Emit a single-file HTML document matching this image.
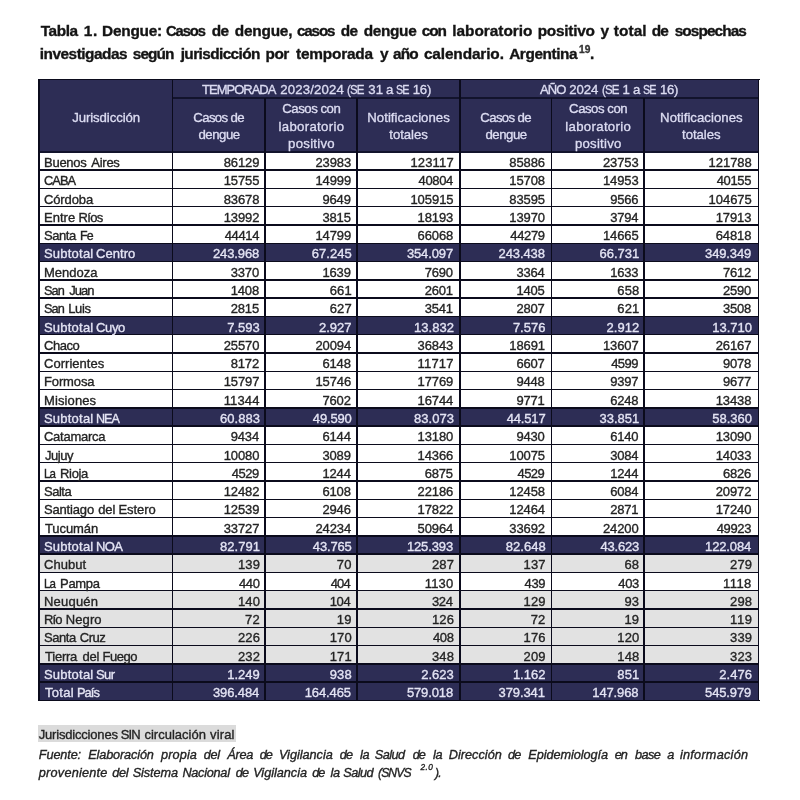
<!DOCTYPE html>
<html><head><meta charset="utf-8"><title>Tabla 1. Dengue</title>
<style>
html,body{margin:0;padding:0;background:#fff;}
body{width:800px;height:800px;position:relative;overflow:hidden;font-family:"Liberation Sans",sans-serif;}
.b{position:absolute;}
.l{position:absolute;background:#0b0b1c;}
.x{position:absolute;white-space:nowrap;line-height:1;-webkit-text-stroke:0.35px;}
#pg{position:absolute;left:0;top:0;width:800px;height:800px;background:#fff;filter:blur(0.45px);}
</style></head><body><div id="pg">
<div class="b" style="left:38.85px;top:79.6px;width:719.8px;height:72.20000000000002px;background:#2d2d55;"></div>
<div class="b" style="left:38.85px;top:243.23px;width:719.8px;height:18.29px;background:#2d2d55;"></div>
<div class="b" style="left:38.85px;top:316.38px;width:719.8px;height:18.29px;background:#2d2d55;"></div>
<div class="b" style="left:38.85px;top:407.81px;width:719.8px;height:18.29px;background:#2d2d55;"></div>
<div class="b" style="left:38.85px;top:535.82px;width:719.8px;height:18.29px;background:#2d2d55;"></div>
<div class="b" style="left:38.85px;top:554.11px;width:719.8px;height:18.29px;background:#e2e2e2;"></div>
<div class="b" style="left:38.85px;top:590.68px;width:719.8px;height:18.29px;background:#e2e2e2;"></div>
<div class="b" style="left:38.85px;top:608.97px;width:719.8px;height:18.29px;background:#e2e2e2;"></div>
<div class="b" style="left:38.85px;top:627.25px;width:719.8px;height:18.29px;background:#e2e2e2;"></div>
<div class="b" style="left:38.85px;top:645.54px;width:719.8px;height:18.29px;background:#e2e2e2;"></div>
<div class="b" style="left:38.85px;top:663.83px;width:719.8px;height:18.29px;background:#2d2d55;"></div>
<div class="b" style="left:38.85px;top:682.11px;width:719.8px;height:18.29px;background:#2d2d55;"></div>
<div class="l" style="left:38.00px;top:78.75px;width:721.50px;height:1.7px;"></div>
<div class="l" style="left:38.00px;top:699.55px;width:721.50px;height:1.7px;"></div>
<div class="l" style="left:172.60px;top:96.90px;width:586.05px;height:1.8px;background:#12132c;"></div>
<div class="l" style="left:38.85px;top:150.90px;width:719.80px;height:1.8px;background:#12132c;"></div>
<div class="l" style="left:38.85px;top:169.36px;width:719.80px;height:1.45px;"></div>
<div class="l" style="left:38.85px;top:187.65px;width:719.80px;height:1.45px;"></div>
<div class="l" style="left:38.85px;top:205.94px;width:719.80px;height:1.45px;"></div>
<div class="l" style="left:38.85px;top:224.22px;width:719.80px;height:1.45px;"></div>
<div class="l" style="left:38.85px;top:242.51px;width:719.80px;height:1.45px;"></div>
<div class="l" style="left:38.85px;top:260.79px;width:719.80px;height:1.45px;"></div>
<div class="l" style="left:38.85px;top:279.08px;width:719.80px;height:1.45px;"></div>
<div class="l" style="left:38.85px;top:297.37px;width:719.80px;height:1.45px;"></div>
<div class="l" style="left:38.85px;top:315.65px;width:719.80px;height:1.45px;"></div>
<div class="l" style="left:38.85px;top:333.94px;width:719.80px;height:1.45px;"></div>
<div class="l" style="left:38.85px;top:352.23px;width:719.80px;height:1.45px;"></div>
<div class="l" style="left:38.85px;top:370.51px;width:719.80px;height:1.45px;"></div>
<div class="l" style="left:38.85px;top:388.80px;width:719.80px;height:1.45px;"></div>
<div class="l" style="left:38.85px;top:407.09px;width:719.80px;height:1.45px;"></div>
<div class="l" style="left:38.85px;top:425.37px;width:719.80px;height:1.45px;"></div>
<div class="l" style="left:38.85px;top:443.66px;width:719.80px;height:1.45px;"></div>
<div class="l" style="left:38.85px;top:461.95px;width:719.80px;height:1.45px;"></div>
<div class="l" style="left:38.85px;top:480.23px;width:719.80px;height:1.45px;"></div>
<div class="l" style="left:38.85px;top:498.52px;width:719.80px;height:1.45px;"></div>
<div class="l" style="left:38.85px;top:516.81px;width:719.80px;height:1.45px;"></div>
<div class="l" style="left:38.85px;top:535.09px;width:719.80px;height:1.45px;"></div>
<div class="l" style="left:38.85px;top:553.38px;width:719.80px;height:1.45px;"></div>
<div class="l" style="left:38.85px;top:571.67px;width:719.80px;height:1.45px;"></div>
<div class="l" style="left:38.85px;top:589.96px;width:719.80px;height:1.45px;"></div>
<div class="l" style="left:38.85px;top:608.24px;width:719.80px;height:1.45px;"></div>
<div class="l" style="left:38.85px;top:626.53px;width:719.80px;height:1.45px;"></div>
<div class="l" style="left:38.85px;top:644.81px;width:719.80px;height:1.45px;"></div>
<div class="l" style="left:38.85px;top:663.10px;width:719.80px;height:1.45px;"></div>
<div class="l" style="left:38.85px;top:681.39px;width:719.80px;height:1.45px;"></div>
<div class="l" style="left:38.00px;top:79.60px;width:1.7px;height:620.80px;"></div>
<div class="l" style="left:757.80px;top:79.60px;width:1.7px;height:620.80px;"></div>
<div class="l" style="left:171.70px;top:79.60px;width:1.8px;height:620.80px;"></div>
<div class="l" style="left:459.30px;top:79.60px;width:1.8px;height:620.80px;"></div>
<div class="l" style="left:264.20px;top:97.80px;width:1.6px;height:602.60px;"></div>
<div class="l" style="left:356.20px;top:97.80px;width:1.6px;height:602.60px;"></div>
<div class="l" style="left:550.60px;top:97.80px;width:1.6px;height:602.60px;"></div>
<div class="l" style="left:643.40px;top:97.80px;width:1.6px;height:602.60px;"></div>
<div class="b" style="left:38px;top:725px;width:198px;height:17px;background:#dbdbdb;"></div>
<div class="x" style="left:40.77px;top:23.46px;font-size:15.4px;letter-spacing:-0.443px;color:#141414;font-weight:bold;">Tabla</div>
<div class="x" style="left:83.68px;top:23.46px;font-size:15.4px;letter-spacing:0.696px;color:#141414;font-weight:bold;">1.</div>
<div class="x" style="left:102.05px;top:23.46px;font-size:15.4px;letter-spacing:-0.229px;color:#141414;font-weight:bold;">Dengue:</div>
<div class="x" style="left:166.40px;top:23.46px;font-size:15.4px;letter-spacing:-1.155px;color:#141414;transform:scaleX(0.9609);transform-origin:0 0;font-weight:bold;">Casos</div>
<div class="x" style="left:211.84px;top:23.46px;font-size:15.4px;letter-spacing:-0.755px;color:#141414;font-weight:bold;">de</div>
<div class="x" style="left:234.76px;top:23.46px;font-size:15.4px;letter-spacing:-0.212px;color:#141414;font-weight:bold;">dengue,</div>
<div class="x" style="left:297.18px;top:23.46px;font-size:15.4px;letter-spacing:-1.155px;color:#141414;transform:scaleX(0.9872);transform-origin:0 0;font-weight:bold;">casos</div>
<div class="x" style="left:340.75px;top:23.46px;font-size:15.4px;letter-spacing:-0.755px;color:#141414;font-weight:bold;">de</div>
<div class="x" style="left:363.67px;top:23.46px;font-size:15.4px;letter-spacing:-0.337px;color:#141414;font-weight:bold;">dengue</div>
<div class="x" style="left:421.67px;top:23.46px;font-size:15.4px;letter-spacing:-1.004px;color:#141414;font-weight:bold;">con</div>
<div class="x" style="left:452.34px;top:23.46px;font-size:15.4px;letter-spacing:-0.037px;color:#141414;font-weight:bold;">laboratorio</div>
<div class="x" style="left:537.64px;top:23.46px;font-size:15.4px;letter-spacing:-0.243px;color:#141414;font-weight:bold;">positivo</div>
<div class="x" style="left:600.62px;top:23.46px;font-size:15.4px;letter-spacing:0.000px;color:#141414;font-weight:bold;">y</div>
<div class="x" style="left:613.87px;top:23.46px;font-size:15.4px;letter-spacing:0.046px;color:#141414;font-weight:bold;">total</div>
<div class="x" style="left:651.73px;top:23.46px;font-size:15.4px;letter-spacing:-0.755px;color:#141414;font-weight:bold;">de</div>
<div class="x" style="left:674.65px;top:23.46px;font-size:15.4px;letter-spacing:-0.914px;color:#141414;font-weight:bold;">sospechas</div>
<div class="x" style="left:39.77px;top:45.76px;font-size:15.4px;letter-spacing:-0.499px;color:#141414;font-weight:bold;">investigadas</div>
<div class="x" style="left:132.82px;top:45.76px;font-size:15.4px;letter-spacing:-0.911px;color:#141414;font-weight:bold;">según</div>
<div class="x" style="left:180.71px;top:45.76px;font-size:15.4px;letter-spacing:-0.607px;color:#141414;font-weight:bold;">jurisdicción</div>
<div class="x" style="left:265.58px;top:45.76px;font-size:15.4px;letter-spacing:-0.543px;color:#141414;font-weight:bold;">por</div>
<div class="x" style="left:296.03px;top:45.76px;font-size:15.4px;letter-spacing:-0.196px;color:#141414;font-weight:bold;">temporada</div>
<div class="x" style="left:380.00px;top:45.76px;font-size:15.4px;letter-spacing:0.000px;color:#141414;font-weight:bold;">y</div>
<div class="x" style="left:393.10px;top:45.76px;font-size:15.4px;letter-spacing:-0.855px;color:#141414;font-weight:bold;">año</div>
<div class="x" style="left:423.93px;top:45.76px;font-size:15.4px;letter-spacing:-0.128px;color:#141414;font-weight:bold;">calendario.</div>
<div class="x" style="left:509.19px;top:45.76px;font-size:15.4px;letter-spacing:-0.433px;color:#141414;font-weight:bold;">Argentina</div>
<div class="x" style="left:590.00px;top:45.76px;font-size:15.4px;letter-spacing:0.000px;color:#141414;font-weight:bold;">.</div>
<div class="x" style="left:579.00px;top:45.07px;font-size:10.2px;letter-spacing:0.200px;color:#333333;font-weight:bold;">19</div>
<div class="x" style="left:201.91px;top:83.43px;font-size:13.2px;letter-spacing:-0.990px;color:#dcdcf2;transform:scaleX(0.9840);transform-origin:0 0;">TEMPORADA</div>
<div class="x" style="left:280.29px;top:83.43px;font-size:13.2px;letter-spacing:0.154px;color:#dcdcf2;">2023/2024</div>
<div class="x" style="left:347.17px;top:83.43px;font-size:13.2px;letter-spacing:-0.990px;color:#dcdcf2;transform:scaleX(0.8721);transform-origin:0 0;">(SE</div>
<div class="x" style="left:368.15px;top:83.43px;font-size:13.2px;letter-spacing:0.213px;color:#dcdcf2;">31</div>
<div class="x" style="left:385.88px;top:83.43px;font-size:13.2px;letter-spacing:0.000px;color:#dcdcf2;">a</div>
<div class="x" style="left:396.15px;top:83.43px;font-size:13.2px;letter-spacing:-0.990px;color:#dcdcf2;transform:scaleX(0.8165);transform-origin:0 0;">SE</div>
<div class="x" style="left:412.74px;top:83.43px;font-size:13.2px;letter-spacing:-0.227px;color:#dcdcf2;">16)</div>
<div class="x" style="left:540.01px;top:83.43px;font-size:13.2px;letter-spacing:-0.990px;color:#dcdcf2;transform:scaleX(0.9876);transform-origin:0 0;">AÑO</div>
<div class="x" style="left:569.22px;top:83.43px;font-size:13.2px;letter-spacing:-0.096px;color:#dcdcf2;">2024</div>
<div class="x" style="left:601.58px;top:83.43px;font-size:13.2px;letter-spacing:-0.990px;color:#dcdcf2;transform:scaleX(0.8721);transform-origin:0 0;">(SE</div>
<div class="x" style="left:622.56px;top:83.43px;font-size:13.2px;letter-spacing:0.000px;color:#dcdcf2;">1</div>
<div class="x" style="left:633.04px;top:83.43px;font-size:13.2px;letter-spacing:0.000px;color:#dcdcf2;">a</div>
<div class="x" style="left:643.31px;top:83.43px;font-size:13.2px;letter-spacing:-0.990px;color:#dcdcf2;transform:scaleX(0.8165);transform-origin:0 0;">SE</div>
<div class="x" style="left:659.90px;top:83.43px;font-size:13.2px;letter-spacing:-0.227px;color:#dcdcf2;">16)</div>
<div class="x" style="left:72.22px;top:110.58px;font-size:13.2px;letter-spacing:-0.091px;color:#dcdcf2;">Jurisdicción</div>
<div class="x" style="left:193.25px;top:110.58px;font-size:13.2px;letter-spacing:-0.614px;color:#dcdcf2;">Casos de</div>
<div class="x" style="left:198.50px;top:128.13px;font-size:13.2px;letter-spacing:-0.480px;color:#dcdcf2;">dengue</div>
<div class="x" style="left:480.25px;top:110.58px;font-size:13.2px;letter-spacing:-0.614px;color:#dcdcf2;">Casos de</div>
<div class="x" style="left:485.50px;top:128.13px;font-size:13.2px;letter-spacing:-0.480px;color:#dcdcf2;">dengue</div>
<div class="x" style="left:282.30px;top:101.73px;font-size:13.2px;letter-spacing:-0.475px;color:#dcdcf2;">Casos con</div>
<div class="x" style="left:278.50px;top:119.93px;font-size:13.2px;letter-spacing:0.320px;color:#dcdcf2;">laboratorio</div>
<div class="x" style="left:288.10px;top:136.83px;font-size:13.2px;letter-spacing:0.257px;color:#dcdcf2;">positivo</div>
<div class="x" style="left:569.10px;top:101.73px;font-size:13.2px;letter-spacing:-0.475px;color:#dcdcf2;">Casos con</div>
<div class="x" style="left:565.30px;top:119.93px;font-size:13.2px;letter-spacing:0.320px;color:#dcdcf2;">laboratorio</div>
<div class="x" style="left:574.90px;top:136.83px;font-size:13.2px;letter-spacing:0.257px;color:#dcdcf2;">positivo</div>
<div class="x" style="left:367.30px;top:110.93px;font-size:13.2px;letter-spacing:0.031px;color:#dcdcf2;">Notificaciones</div>
<div class="x" style="left:389.30px;top:128.43px;font-size:13.2px;letter-spacing:-0.067px;color:#dcdcf2;">totales</div>
<div class="x" style="left:660.12px;top:110.93px;font-size:13.2px;letter-spacing:0.031px;color:#dcdcf2;">Notificaciones</div>
<div class="x" style="left:682.12px;top:128.43px;font-size:13.2px;letter-spacing:-0.067px;color:#dcdcf2;">totales</div>
<div class="x" style="left:43.99px;top:155.93px;font-size:13.0px;letter-spacing:-0.249px;color:#242424;">Buenos</div>
<div class="x" style="left:91.27px;top:155.93px;font-size:13.0px;letter-spacing:-0.257px;color:#242424;">Aires</div>
<div class="x" style="left:223.63px;top:155.93px;font-size:13.0px;letter-spacing:-0.096px;color:#242424;">86129</div>
<div class="x" style="left:315.38px;top:155.93px;font-size:13.0px;letter-spacing:-0.096px;color:#242424;">23983</div>
<div class="x" style="left:410.44px;top:155.93px;font-size:13.0px;letter-spacing:0.153px;color:#242424;">123117</div>
<div class="x" style="left:509.28px;top:155.93px;font-size:13.0px;letter-spacing:-0.096px;color:#242424;">85886</div>
<div class="x" style="left:602.98px;top:155.93px;font-size:13.0px;letter-spacing:-0.096px;color:#242424;">23753</div>
<div class="x" style="left:708.59px;top:155.93px;font-size:13.0px;letter-spacing:-0.047px;color:#242424;">121788</div>
<div class="x" style="left:44.01px;top:174.22px;font-size:13.0px;letter-spacing:-0.975px;color:#242424;transform:scaleX(0.9871);transform-origin:0 0;">CABA</div>
<div class="x" style="left:223.63px;top:174.22px;font-size:13.0px;letter-spacing:-0.096px;color:#242424;">15755</div>
<div class="x" style="left:315.38px;top:174.22px;font-size:13.0px;letter-spacing:-0.096px;color:#242424;">14999</div>
<div class="x" style="left:418.58px;top:174.22px;font-size:13.0px;letter-spacing:-0.346px;color:#242424;">40804</div>
<div class="x" style="left:509.28px;top:174.22px;font-size:13.0px;letter-spacing:-0.096px;color:#242424;">15708</div>
<div class="x" style="left:602.98px;top:174.22px;font-size:13.0px;letter-spacing:-0.096px;color:#242424;">14953</div>
<div class="x" style="left:716.73px;top:174.22px;font-size:13.0px;letter-spacing:-0.346px;color:#242424;">40155</div>
<div class="x" style="left:43.99px;top:192.51px;font-size:13.0px;letter-spacing:-0.123px;color:#242424;">Córdoba</div>
<div class="x" style="left:223.63px;top:192.51px;font-size:13.0px;letter-spacing:-0.096px;color:#242424;">83678</div>
<div class="x" style="left:322.53px;top:192.51px;font-size:13.0px;letter-spacing:-0.178px;color:#242424;">9649</div>
<div class="x" style="left:410.44px;top:192.51px;font-size:13.0px;letter-spacing:-0.047px;color:#242424;">105915</div>
<div class="x" style="left:509.28px;top:192.51px;font-size:13.0px;letter-spacing:-0.096px;color:#242424;">83595</div>
<div class="x" style="left:610.13px;top:192.51px;font-size:13.0px;letter-spacing:-0.178px;color:#242424;">9566</div>
<div class="x" style="left:708.59px;top:192.51px;font-size:13.0px;letter-spacing:-0.047px;color:#242424;">104675</div>
<div class="x" style="left:43.99px;top:210.79px;font-size:13.0px;letter-spacing:0.025px;color:#242424;">Entre</div>
<div class="x" style="left:78.61px;top:210.79px;font-size:13.0px;letter-spacing:-0.707px;color:#242424;">Ríos</div>
<div class="x" style="left:223.63px;top:210.79px;font-size:13.0px;letter-spacing:-0.096px;color:#242424;">13992</div>
<div class="x" style="left:322.53px;top:210.79px;font-size:13.0px;letter-spacing:-0.178px;color:#242424;">3815</div>
<div class="x" style="left:417.58px;top:210.79px;font-size:13.0px;letter-spacing:-0.096px;color:#242424;">18193</div>
<div class="x" style="left:509.28px;top:210.79px;font-size:13.0px;letter-spacing:-0.096px;color:#242424;">13970</div>
<div class="x" style="left:610.13px;top:210.79px;font-size:13.0px;letter-spacing:-0.178px;color:#242424;">3794</div>
<div class="x" style="left:715.73px;top:210.79px;font-size:13.0px;letter-spacing:-0.096px;color:#242424;">17913</div>
<div class="x" style="left:43.99px;top:229.08px;font-size:13.0px;letter-spacing:-0.431px;color:#242424;">Santa</div>
<div class="x" style="left:79.83px;top:229.08px;font-size:13.0px;letter-spacing:-0.975px;color:#242424;transform:scaleX(0.9519);transform-origin:0 0;">Fe</div>
<div class="x" style="left:224.63px;top:229.08px;font-size:13.0px;letter-spacing:-0.346px;color:#242424;">44414</div>
<div class="x" style="left:315.38px;top:229.08px;font-size:13.0px;letter-spacing:-0.096px;color:#242424;">14799</div>
<div class="x" style="left:417.58px;top:229.08px;font-size:13.0px;letter-spacing:-0.096px;color:#242424;">66068</div>
<div class="x" style="left:510.28px;top:229.08px;font-size:13.0px;letter-spacing:-0.346px;color:#242424;">44279</div>
<div class="x" style="left:602.98px;top:229.08px;font-size:13.0px;letter-spacing:-0.096px;color:#242424;">14665</div>
<div class="x" style="left:715.73px;top:229.08px;font-size:13.0px;letter-spacing:-0.096px;color:#242424;">64818</div>
<div class="x" style="left:43.99px;top:247.37px;font-size:13.0px;letter-spacing:0.219px;color:#e4e4f4;">Subtotal</div>
<div class="x" style="left:96.05px;top:247.37px;font-size:13.0px;letter-spacing:0.056px;color:#e4e4f4;">Centro</div>
<div class="x" style="left:212.93px;top:247.37px;font-size:13.0px;letter-spacing:-0.114px;color:#e4e4f4;">243.968</div>
<div class="x" style="left:311.83px;top:247.37px;font-size:13.0px;letter-spacing:0.034px;color:#e4e4f4;">67.245</div>
<div class="x" style="left:406.88px;top:247.37px;font-size:13.0px;letter-spacing:-0.114px;color:#e4e4f4;">354.097</div>
<div class="x" style="left:498.58px;top:247.37px;font-size:13.0px;letter-spacing:-0.114px;color:#e4e4f4;">243.438</div>
<div class="x" style="left:599.43px;top:247.37px;font-size:13.0px;letter-spacing:0.034px;color:#e4e4f4;">66.731</div>
<div class="x" style="left:705.03px;top:247.37px;font-size:13.0px;letter-spacing:-0.114px;color:#e4e4f4;">349.349</div>
<div class="x" style="left:43.99px;top:265.65px;font-size:13.0px;letter-spacing:0.018px;color:#242424;">Mendoza</div>
<div class="x" style="left:230.78px;top:265.65px;font-size:13.0px;letter-spacing:-0.178px;color:#242424;">3370</div>
<div class="x" style="left:322.53px;top:265.65px;font-size:13.0px;letter-spacing:-0.178px;color:#242424;">1639</div>
<div class="x" style="left:424.73px;top:265.65px;font-size:13.0px;letter-spacing:-0.178px;color:#242424;">7690</div>
<div class="x" style="left:516.43px;top:265.65px;font-size:13.0px;letter-spacing:-0.178px;color:#242424;">3364</div>
<div class="x" style="left:610.13px;top:265.65px;font-size:13.0px;letter-spacing:-0.178px;color:#242424;">1633</div>
<div class="x" style="left:722.88px;top:265.65px;font-size:13.0px;letter-spacing:-0.178px;color:#242424;">7612</div>
<div class="x" style="left:44.01px;top:283.94px;font-size:13.0px;letter-spacing:-0.975px;color:#242424;transform:scaleX(0.9792);transform-origin:0 0;">San</div>
<div class="x" style="left:69.15px;top:283.94px;font-size:13.0px;letter-spacing:-0.954px;color:#242424;">Juan</div>
<div class="x" style="left:230.78px;top:283.94px;font-size:13.0px;letter-spacing:-0.178px;color:#242424;">1408</div>
<div class="x" style="left:329.68px;top:283.94px;font-size:13.0px;letter-spacing:0.159px;color:#242424;">661</div>
<div class="x" style="left:424.73px;top:283.94px;font-size:13.0px;letter-spacing:-0.178px;color:#242424;">2601</div>
<div class="x" style="left:516.43px;top:283.94px;font-size:13.0px;letter-spacing:-0.178px;color:#242424;">1405</div>
<div class="x" style="left:617.28px;top:283.94px;font-size:13.0px;letter-spacing:0.159px;color:#242424;">658</div>
<div class="x" style="left:722.88px;top:283.94px;font-size:13.0px;letter-spacing:-0.178px;color:#242424;">2590</div>
<div class="x" style="left:44.01px;top:302.23px;font-size:13.0px;letter-spacing:-0.975px;color:#242424;transform:scaleX(0.9792);transform-origin:0 0;">San</div>
<div class="x" style="left:68.15px;top:302.23px;font-size:13.0px;letter-spacing:-0.302px;color:#242424;">Luis</div>
<div class="x" style="left:230.78px;top:302.23px;font-size:13.0px;letter-spacing:-0.178px;color:#242424;">2815</div>
<div class="x" style="left:329.68px;top:302.23px;font-size:13.0px;letter-spacing:0.159px;color:#242424;">627</div>
<div class="x" style="left:424.73px;top:302.23px;font-size:13.0px;letter-spacing:-0.178px;color:#242424;">3541</div>
<div class="x" style="left:516.43px;top:302.23px;font-size:13.0px;letter-spacing:-0.178px;color:#242424;">2807</div>
<div class="x" style="left:617.28px;top:302.23px;font-size:13.0px;letter-spacing:0.159px;color:#242424;">621</div>
<div class="x" style="left:722.88px;top:302.23px;font-size:13.0px;letter-spacing:-0.178px;color:#242424;">3508</div>
<div class="x" style="left:43.99px;top:320.51px;font-size:13.0px;letter-spacing:0.219px;color:#e4e4f4;">Subtotal</div>
<div class="x" style="left:96.05px;top:320.51px;font-size:13.0px;letter-spacing:-0.381px;color:#e4e4f4;">Cuyo</div>
<div class="x" style="left:227.23px;top:320.51px;font-size:13.0px;letter-spacing:0.005px;color:#e4e4f4;">7.593</div>
<div class="x" style="left:318.98px;top:320.51px;font-size:13.0px;letter-spacing:0.005px;color:#e4e4f4;">2.927</div>
<div class="x" style="left:414.03px;top:320.51px;font-size:13.0px;letter-spacing:0.034px;color:#e4e4f4;">13.832</div>
<div class="x" style="left:512.88px;top:320.51px;font-size:13.0px;letter-spacing:0.005px;color:#e4e4f4;">7.576</div>
<div class="x" style="left:606.58px;top:320.51px;font-size:13.0px;letter-spacing:0.005px;color:#e4e4f4;">2.912</div>
<div class="x" style="left:712.18px;top:320.51px;font-size:13.0px;letter-spacing:0.034px;color:#e4e4f4;">13.710</div>
<div class="x" style="left:43.99px;top:338.80px;font-size:13.0px;letter-spacing:-0.431px;color:#242424;">Chaco</div>
<div class="x" style="left:223.63px;top:338.80px;font-size:13.0px;letter-spacing:-0.096px;color:#242424;">25570</div>
<div class="x" style="left:315.38px;top:338.80px;font-size:13.0px;letter-spacing:-0.096px;color:#242424;">20094</div>
<div class="x" style="left:417.58px;top:338.80px;font-size:13.0px;letter-spacing:-0.096px;color:#242424;">36843</div>
<div class="x" style="left:509.28px;top:338.80px;font-size:13.0px;letter-spacing:-0.096px;color:#242424;">18691</div>
<div class="x" style="left:602.98px;top:338.80px;font-size:13.0px;letter-spacing:-0.096px;color:#242424;">13607</div>
<div class="x" style="left:715.73px;top:338.80px;font-size:13.0px;letter-spacing:-0.096px;color:#242424;">26167</div>
<div class="x" style="left:43.99px;top:357.09px;font-size:13.0px;letter-spacing:0.029px;color:#242424;">Corrientes</div>
<div class="x" style="left:230.78px;top:357.09px;font-size:13.0px;letter-spacing:-0.178px;color:#242424;">8172</div>
<div class="x" style="left:322.53px;top:357.09px;font-size:13.0px;letter-spacing:-0.178px;color:#242424;">6148</div>
<div class="x" style="left:417.58px;top:357.09px;font-size:13.0px;letter-spacing:0.154px;color:#242424;">11717</div>
<div class="x" style="left:516.43px;top:357.09px;font-size:13.0px;letter-spacing:-0.178px;color:#242424;">6607</div>
<div class="x" style="left:611.13px;top:357.09px;font-size:13.0px;letter-spacing:-0.511px;color:#242424;">4599</div>
<div class="x" style="left:722.88px;top:357.09px;font-size:13.0px;letter-spacing:-0.178px;color:#242424;">9078</div>
<div class="x" style="left:43.99px;top:375.37px;font-size:13.0px;letter-spacing:-0.132px;color:#242424;">Formosa</div>
<div class="x" style="left:223.63px;top:375.37px;font-size:13.0px;letter-spacing:-0.096px;color:#242424;">15797</div>
<div class="x" style="left:315.38px;top:375.37px;font-size:13.0px;letter-spacing:-0.096px;color:#242424;">15746</div>
<div class="x" style="left:417.58px;top:375.37px;font-size:13.0px;letter-spacing:-0.096px;color:#242424;">17769</div>
<div class="x" style="left:516.43px;top:375.37px;font-size:13.0px;letter-spacing:-0.178px;color:#242424;">9448</div>
<div class="x" style="left:610.13px;top:375.37px;font-size:13.0px;letter-spacing:-0.178px;color:#242424;">9397</div>
<div class="x" style="left:722.88px;top:375.37px;font-size:13.0px;letter-spacing:-0.178px;color:#242424;">9677</div>
<div class="x" style="left:43.99px;top:393.66px;font-size:13.0px;letter-spacing:0.119px;color:#242424;">Misiones</div>
<div class="x" style="left:223.63px;top:393.66px;font-size:13.0px;letter-spacing:0.154px;color:#242424;">11344</div>
<div class="x" style="left:322.53px;top:393.66px;font-size:13.0px;letter-spacing:-0.178px;color:#242424;">7602</div>
<div class="x" style="left:417.58px;top:393.66px;font-size:13.0px;letter-spacing:-0.096px;color:#242424;">16744</div>
<div class="x" style="left:516.43px;top:393.66px;font-size:13.0px;letter-spacing:-0.178px;color:#242424;">9771</div>
<div class="x" style="left:610.13px;top:393.66px;font-size:13.0px;letter-spacing:-0.178px;color:#242424;">6248</div>
<div class="x" style="left:715.73px;top:393.66px;font-size:13.0px;letter-spacing:-0.096px;color:#242424;">13438</div>
<div class="x" style="left:43.99px;top:411.95px;font-size:13.0px;letter-spacing:0.219px;color:#e4e4f4;">Subtotal</div>
<div class="x" style="left:96.08px;top:411.95px;font-size:13.0px;letter-spacing:-0.975px;color:#e4e4f4;transform:scaleX(0.9650);transform-origin:0 0;">NEA</div>
<div class="x" style="left:220.08px;top:411.95px;font-size:13.0px;letter-spacing:0.034px;color:#e4e4f4;">60.883</div>
<div class="x" style="left:312.83px;top:411.95px;font-size:13.0px;letter-spacing:-0.166px;color:#e4e4f4;">49.590</div>
<div class="x" style="left:414.03px;top:411.95px;font-size:13.0px;letter-spacing:0.034px;color:#e4e4f4;">83.073</div>
<div class="x" style="left:506.73px;top:411.95px;font-size:13.0px;letter-spacing:-0.166px;color:#e4e4f4;">44.517</div>
<div class="x" style="left:599.43px;top:411.95px;font-size:13.0px;letter-spacing:0.034px;color:#e4e4f4;">33.851</div>
<div class="x" style="left:712.18px;top:411.95px;font-size:13.0px;letter-spacing:0.034px;color:#e4e4f4;">58.360</div>
<div class="x" style="left:43.99px;top:430.23px;font-size:13.0px;letter-spacing:-0.251px;color:#242424;">Catamarca</div>
<div class="x" style="left:230.78px;top:430.23px;font-size:13.0px;letter-spacing:-0.178px;color:#242424;">9434</div>
<div class="x" style="left:322.53px;top:430.23px;font-size:13.0px;letter-spacing:-0.178px;color:#242424;">6144</div>
<div class="x" style="left:417.58px;top:430.23px;font-size:13.0px;letter-spacing:-0.096px;color:#242424;">13180</div>
<div class="x" style="left:516.43px;top:430.23px;font-size:13.0px;letter-spacing:-0.178px;color:#242424;">9430</div>
<div class="x" style="left:610.13px;top:430.23px;font-size:13.0px;letter-spacing:-0.178px;color:#242424;">6140</div>
<div class="x" style="left:715.73px;top:430.23px;font-size:13.0px;letter-spacing:-0.096px;color:#242424;">13090</div>
<div class="x" style="left:44.99px;top:448.52px;font-size:13.0px;letter-spacing:-0.454px;color:#242424;">Jujuy</div>
<div class="x" style="left:223.63px;top:448.52px;font-size:13.0px;letter-spacing:-0.096px;color:#242424;">10080</div>
<div class="x" style="left:322.53px;top:448.52px;font-size:13.0px;letter-spacing:-0.178px;color:#242424;">3089</div>
<div class="x" style="left:417.58px;top:448.52px;font-size:13.0px;letter-spacing:-0.096px;color:#242424;">14366</div>
<div class="x" style="left:509.28px;top:448.52px;font-size:13.0px;letter-spacing:-0.096px;color:#242424;">10075</div>
<div class="x" style="left:610.13px;top:448.52px;font-size:13.0px;letter-spacing:-0.178px;color:#242424;">3084</div>
<div class="x" style="left:715.73px;top:448.52px;font-size:13.0px;letter-spacing:-0.096px;color:#242424;">14033</div>
<div class="x" style="left:44.11px;top:466.81px;font-size:13.0px;letter-spacing:-0.975px;color:#242424;transform:scaleX(0.8882);transform-origin:0 0;">La</div>
<div class="x" style="left:60.08px;top:466.81px;font-size:13.0px;letter-spacing:-0.361px;color:#242424;">Rioja</div>
<div class="x" style="left:231.78px;top:466.81px;font-size:13.0px;letter-spacing:-0.511px;color:#242424;">4529</div>
<div class="x" style="left:322.53px;top:466.81px;font-size:13.0px;letter-spacing:-0.178px;color:#242424;">1244</div>
<div class="x" style="left:424.73px;top:466.81px;font-size:13.0px;letter-spacing:-0.178px;color:#242424;">6875</div>
<div class="x" style="left:517.43px;top:466.81px;font-size:13.0px;letter-spacing:-0.511px;color:#242424;">4529</div>
<div class="x" style="left:610.13px;top:466.81px;font-size:13.0px;letter-spacing:-0.178px;color:#242424;">1244</div>
<div class="x" style="left:722.88px;top:466.81px;font-size:13.0px;letter-spacing:-0.178px;color:#242424;">6826</div>
<div class="x" style="left:43.99px;top:485.09px;font-size:13.0px;letter-spacing:-0.490px;color:#242424;">Salta</div>
<div class="x" style="left:223.63px;top:485.09px;font-size:13.0px;letter-spacing:-0.096px;color:#242424;">12482</div>
<div class="x" style="left:322.53px;top:485.09px;font-size:13.0px;letter-spacing:-0.178px;color:#242424;">6108</div>
<div class="x" style="left:417.58px;top:485.09px;font-size:13.0px;letter-spacing:-0.096px;color:#242424;">22186</div>
<div class="x" style="left:509.28px;top:485.09px;font-size:13.0px;letter-spacing:-0.096px;color:#242424;">12458</div>
<div class="x" style="left:610.13px;top:485.09px;font-size:13.0px;letter-spacing:-0.178px;color:#242424;">6084</div>
<div class="x" style="left:715.73px;top:485.09px;font-size:13.0px;letter-spacing:-0.096px;color:#242424;">20972</div>
<div class="x" style="left:43.99px;top:503.38px;font-size:13.0px;letter-spacing:-0.169px;color:#242424;">Santiago</div>
<div class="x" style="left:98.33px;top:503.38px;font-size:13.0px;letter-spacing:-0.192px;color:#242424;">del</div>
<div class="x" style="left:118.47px;top:503.38px;font-size:13.0px;letter-spacing:-0.056px;color:#242424;">Estero</div>
<div class="x" style="left:223.63px;top:503.38px;font-size:13.0px;letter-spacing:-0.096px;color:#242424;">12539</div>
<div class="x" style="left:322.53px;top:503.38px;font-size:13.0px;letter-spacing:-0.178px;color:#242424;">2946</div>
<div class="x" style="left:417.58px;top:503.38px;font-size:13.0px;letter-spacing:-0.096px;color:#242424;">17822</div>
<div class="x" style="left:509.28px;top:503.38px;font-size:13.0px;letter-spacing:-0.096px;color:#242424;">12464</div>
<div class="x" style="left:610.13px;top:503.38px;font-size:13.0px;letter-spacing:-0.178px;color:#242424;">2871</div>
<div class="x" style="left:715.73px;top:503.38px;font-size:13.0px;letter-spacing:-0.096px;color:#242424;">17240</div>
<div class="x" style="left:44.99px;top:521.67px;font-size:13.0px;letter-spacing:-0.079px;color:#242424;">Tucumán</div>
<div class="x" style="left:223.63px;top:521.67px;font-size:13.0px;letter-spacing:-0.096px;color:#242424;">33727</div>
<div class="x" style="left:315.38px;top:521.67px;font-size:13.0px;letter-spacing:-0.096px;color:#242424;">24234</div>
<div class="x" style="left:417.58px;top:521.67px;font-size:13.0px;letter-spacing:-0.096px;color:#242424;">50964</div>
<div class="x" style="left:509.28px;top:521.67px;font-size:13.0px;letter-spacing:-0.096px;color:#242424;">33692</div>
<div class="x" style="left:602.98px;top:521.67px;font-size:13.0px;letter-spacing:-0.096px;color:#242424;">24200</div>
<div class="x" style="left:716.73px;top:521.67px;font-size:13.0px;letter-spacing:-0.346px;color:#242424;">49923</div>
<div class="x" style="left:43.99px;top:539.95px;font-size:13.0px;letter-spacing:0.219px;color:#e4e4f4;">Subtotal</div>
<div class="x" style="left:96.05px;top:539.95px;font-size:13.0px;letter-spacing:-0.651px;color:#e4e4f4;">NOA</div>
<div class="x" style="left:220.08px;top:539.95px;font-size:13.0px;letter-spacing:0.034px;color:#e4e4f4;">82.791</div>
<div class="x" style="left:312.83px;top:539.95px;font-size:13.0px;letter-spacing:-0.166px;color:#e4e4f4;">43.765</div>
<div class="x" style="left:406.88px;top:539.95px;font-size:13.0px;letter-spacing:-0.114px;color:#e4e4f4;">125.393</div>
<div class="x" style="left:505.73px;top:539.95px;font-size:13.0px;letter-spacing:0.034px;color:#e4e4f4;">82.648</div>
<div class="x" style="left:600.43px;top:539.95px;font-size:13.0px;letter-spacing:-0.166px;color:#e4e4f4;">43.623</div>
<div class="x" style="left:705.03px;top:539.95px;font-size:13.0px;letter-spacing:-0.114px;color:#e4e4f4;">122.084</div>
<div class="x" style="left:43.99px;top:558.24px;font-size:13.0px;letter-spacing:0.031px;color:#242424;">Chubut</div>
<div class="x" style="left:237.93px;top:558.24px;font-size:13.0px;letter-spacing:0.159px;color:#242424;">139</div>
<div class="x" style="left:336.83px;top:558.24px;font-size:13.0px;letter-spacing:0.169px;color:#242424;">70</div>
<div class="x" style="left:431.88px;top:558.24px;font-size:13.0px;letter-spacing:0.159px;color:#242424;">287</div>
<div class="x" style="left:523.58px;top:558.24px;font-size:13.0px;letter-spacing:0.159px;color:#242424;">137</div>
<div class="x" style="left:624.43px;top:558.24px;font-size:13.0px;letter-spacing:0.169px;color:#242424;">68</div>
<div class="x" style="left:730.03px;top:558.24px;font-size:13.0px;letter-spacing:0.159px;color:#242424;">279</div>
<div class="x" style="left:44.11px;top:576.53px;font-size:13.0px;letter-spacing:-0.975px;color:#242424;transform:scaleX(0.8882);transform-origin:0 0;">La</div>
<div class="x" style="left:60.08px;top:576.53px;font-size:13.0px;letter-spacing:-0.315px;color:#242424;">Pampa</div>
<div class="x" style="left:238.93px;top:576.53px;font-size:13.0px;letter-spacing:-0.341px;color:#242424;">440</div>
<div class="x" style="left:330.68px;top:576.53px;font-size:13.0px;letter-spacing:-0.841px;color:#242424;">404</div>
<div class="x" style="left:424.73px;top:576.53px;font-size:13.0px;letter-spacing:0.156px;color:#242424;">1130</div>
<div class="x" style="left:524.58px;top:576.53px;font-size:13.0px;letter-spacing:-0.341px;color:#242424;">439</div>
<div class="x" style="left:618.28px;top:576.53px;font-size:13.0px;letter-spacing:-0.341px;color:#242424;">403</div>
<div class="x" style="left:722.88px;top:576.53px;font-size:13.0px;letter-spacing:0.489px;color:#242424;">1118</div>
<div class="x" style="left:43.99px;top:594.81px;font-size:13.0px;letter-spacing:0.204px;color:#242424;">Neuquén</div>
<div class="x" style="left:237.93px;top:594.81px;font-size:13.0px;letter-spacing:0.159px;color:#242424;">140</div>
<div class="x" style="left:329.68px;top:594.81px;font-size:13.0px;letter-spacing:-0.341px;color:#242424;">104</div>
<div class="x" style="left:431.88px;top:594.81px;font-size:13.0px;letter-spacing:-0.341px;color:#242424;">324</div>
<div class="x" style="left:523.58px;top:594.81px;font-size:13.0px;letter-spacing:0.159px;color:#242424;">129</div>
<div class="x" style="left:624.43px;top:594.81px;font-size:13.0px;letter-spacing:0.169px;color:#242424;">93</div>
<div class="x" style="left:730.03px;top:594.81px;font-size:13.0px;letter-spacing:0.159px;color:#242424;">298</div>
<div class="x" style="left:43.99px;top:613.10px;font-size:13.0px;letter-spacing:-0.856px;color:#242424;">Río</div>
<div class="x" style="left:65.80px;top:613.10px;font-size:13.0px;letter-spacing:0.084px;color:#242424;">Negro</div>
<div class="x" style="left:245.08px;top:613.10px;font-size:13.0px;letter-spacing:0.169px;color:#242424;">72</div>
<div class="x" style="left:336.83px;top:613.10px;font-size:13.0px;letter-spacing:0.169px;color:#242424;">19</div>
<div class="x" style="left:431.88px;top:613.10px;font-size:13.0px;letter-spacing:0.159px;color:#242424;">126</div>
<div class="x" style="left:530.73px;top:613.10px;font-size:13.0px;letter-spacing:0.169px;color:#242424;">72</div>
<div class="x" style="left:624.43px;top:613.10px;font-size:13.0px;letter-spacing:0.169px;color:#242424;">19</div>
<div class="x" style="left:730.03px;top:613.10px;font-size:13.0px;letter-spacing:0.659px;color:#242424;">119</div>
<div class="x" style="left:43.99px;top:631.39px;font-size:13.0px;letter-spacing:-0.431px;color:#242424;">Santa</div>
<div class="x" style="left:79.79px;top:631.39px;font-size:13.0px;letter-spacing:-0.506px;color:#242424;">Cruz</div>
<div class="x" style="left:237.93px;top:631.39px;font-size:13.0px;letter-spacing:0.159px;color:#242424;">226</div>
<div class="x" style="left:329.68px;top:631.39px;font-size:13.0px;letter-spacing:0.159px;color:#242424;">170</div>
<div class="x" style="left:432.88px;top:631.39px;font-size:13.0px;letter-spacing:-0.341px;color:#242424;">408</div>
<div class="x" style="left:523.58px;top:631.39px;font-size:13.0px;letter-spacing:0.159px;color:#242424;">176</div>
<div class="x" style="left:617.28px;top:631.39px;font-size:13.0px;letter-spacing:0.159px;color:#242424;">120</div>
<div class="x" style="left:730.03px;top:631.39px;font-size:13.0px;letter-spacing:0.159px;color:#242424;">339</div>
<div class="x" style="left:44.99px;top:649.67px;font-size:13.0px;letter-spacing:-0.219px;color:#242424;">Tierra</div>
<div class="x" style="left:82.42px;top:649.67px;font-size:13.0px;letter-spacing:-0.192px;color:#242424;">del</div>
<div class="x" style="left:102.55px;top:649.67px;font-size:13.0px;letter-spacing:-0.456px;color:#242424;">Fuego</div>
<div class="x" style="left:237.93px;top:649.67px;font-size:13.0px;letter-spacing:0.159px;color:#242424;">232</div>
<div class="x" style="left:329.68px;top:649.67px;font-size:13.0px;letter-spacing:0.159px;color:#242424;">171</div>
<div class="x" style="left:431.88px;top:649.67px;font-size:13.0px;letter-spacing:0.159px;color:#242424;">348</div>
<div class="x" style="left:523.58px;top:649.67px;font-size:13.0px;letter-spacing:0.159px;color:#242424;">209</div>
<div class="x" style="left:617.28px;top:649.67px;font-size:13.0px;letter-spacing:0.159px;color:#242424;">148</div>
<div class="x" style="left:730.03px;top:649.67px;font-size:13.0px;letter-spacing:0.159px;color:#242424;">323</div>
<div class="x" style="left:43.99px;top:667.96px;font-size:13.0px;letter-spacing:0.219px;color:#e4e4f4;">Subtotal</div>
<div class="x" style="left:96.05px;top:667.96px;font-size:13.0px;letter-spacing:-0.613px;color:#e4e4f4;">Sur</div>
<div class="x" style="left:227.23px;top:667.96px;font-size:13.0px;letter-spacing:0.005px;color:#e4e4f4;">1.249</div>
<div class="x" style="left:329.68px;top:667.96px;font-size:13.0px;letter-spacing:0.159px;color:#e4e4f4;">938</div>
<div class="x" style="left:421.18px;top:667.96px;font-size:13.0px;letter-spacing:0.005px;color:#e4e4f4;">2.623</div>
<div class="x" style="left:512.88px;top:667.96px;font-size:13.0px;letter-spacing:0.005px;color:#e4e4f4;">1.162</div>
<div class="x" style="left:617.28px;top:667.96px;font-size:13.0px;letter-spacing:0.159px;color:#e4e4f4;">851</div>
<div class="x" style="left:719.33px;top:667.96px;font-size:13.0px;letter-spacing:0.005px;color:#e4e4f4;">2.476</div>
<div class="x" style="left:44.99px;top:686.25px;font-size:13.0px;letter-spacing:0.282px;color:#e4e4f4;">Total</div>
<div class="x" style="left:76.65px;top:686.25px;font-size:13.0px;letter-spacing:-0.975px;color:#e4e4f4;transform:scaleX(0.9885);transform-origin:0 0;">País</div>
<div class="x" style="left:212.93px;top:686.25px;font-size:13.0px;letter-spacing:-0.114px;color:#e4e4f4;">396.484</div>
<div class="x" style="left:304.68px;top:686.25px;font-size:13.0px;letter-spacing:-0.114px;color:#e4e4f4;">164.465</div>
<div class="x" style="left:406.88px;top:686.25px;font-size:13.0px;letter-spacing:-0.114px;color:#e4e4f4;">579.018</div>
<div class="x" style="left:498.58px;top:686.25px;font-size:13.0px;letter-spacing:-0.114px;color:#e4e4f4;">379.341</div>
<div class="x" style="left:592.28px;top:686.25px;font-size:13.0px;letter-spacing:-0.114px;color:#e4e4f4;">147.968</div>
<div class="x" style="left:705.03px;top:686.25px;font-size:13.0px;letter-spacing:-0.114px;color:#e4e4f4;">545.979</div>
<div class="x" style="left:38.74px;top:727.75px;font-size:13.0px;letter-spacing:-0.188px;color:#242424;">Jurisdicciones</div>
<div class="x" style="left:120.81px;top:727.75px;font-size:13.0px;letter-spacing:-0.941px;color:#242424;">SIN</div>
<div class="x" style="left:144.45px;top:727.75px;font-size:13.0px;letter-spacing:0.008px;color:#242424;">circulación</div>
<div class="x" style="left:210.04px;top:727.75px;font-size:13.0px;letter-spacing:0.142px;color:#242424;">viral</div>
<div class="x" style="left:38.83px;top:749.05px;font-size:12.7px;letter-spacing:-0.127px;color:#242424;font-style:italic;">Fuente:</div>
<div class="x" style="left:88.21px;top:749.05px;font-size:12.7px;letter-spacing:-0.134px;color:#242424;font-style:italic;">Elaboración</div>
<div class="x" style="left:161.01px;top:749.05px;font-size:12.7px;letter-spacing:0.123px;color:#242424;font-style:italic;">propia</div>
<div class="x" style="left:203.76px;top:749.05px;font-size:12.7px;letter-spacing:-0.366px;color:#242424;font-style:italic;">del</div>
<div class="x" style="left:227.17px;top:749.05px;font-size:12.7px;letter-spacing:-0.197px;color:#242424;font-style:italic;">Área</div>
<div class="x" style="left:259.72px;top:749.05px;font-size:12.7px;letter-spacing:-0.938px;color:#242424;font-style:italic;">de</div>
<div class="x" style="left:278.92px;top:749.05px;font-size:12.7px;letter-spacing:-0.024px;color:#242424;font-style:italic;">Vigilancia</div>
<div class="x" style="left:339.84px;top:749.05px;font-size:12.7px;letter-spacing:-0.938px;color:#242424;font-style:italic;">de</div>
<div class="x" style="left:360.05px;top:749.05px;font-size:12.7px;letter-spacing:-0.348px;color:#242424;font-style:italic;">la</div>
<div class="x" style="left:374.84px;top:749.05px;font-size:12.7px;letter-spacing:-0.555px;color:#242424;font-style:italic;">Salud</div>
<div class="x" style="left:412.76px;top:749.05px;font-size:12.7px;letter-spacing:-0.938px;color:#242424;font-style:italic;">de</div>
<div class="x" style="left:432.96px;top:749.05px;font-size:12.7px;letter-spacing:-0.348px;color:#242424;font-style:italic;">la</div>
<div class="x" style="left:448.75px;top:749.05px;font-size:12.7px;letter-spacing:0.024px;color:#242424;font-style:italic;">Dirección</div>
<div class="x" style="left:508.08px;top:749.05px;font-size:12.7px;letter-spacing:-0.938px;color:#242424;font-style:italic;">de</div>
<div class="x" style="left:528.28px;top:749.05px;font-size:12.7px;letter-spacing:-0.058px;color:#242424;font-style:italic;">Epidemiología</div>
<div class="x" style="left:614.73px;top:749.05px;font-size:12.7px;letter-spacing:-0.938px;color:#242424;font-style:italic;">en</div>
<div class="x" style="left:634.94px;top:749.05px;font-size:12.7px;letter-spacing:-0.586px;color:#242424;font-style:italic;">base</div>
<div class="x" style="left:667.32px;top:749.05px;font-size:12.7px;letter-spacing:0.000px;color:#242424;font-style:italic;">a</div>
<div class="x" style="left:679.90px;top:749.05px;font-size:12.7px;letter-spacing:0.258px;color:#242424;font-style:italic;">información</div>
<div class="x" style="left:38.83px;top:767.25px;font-size:12.7px;letter-spacing:0.219px;color:#242424;font-style:italic;">proveniente</div>
<div class="x" style="left:112.25px;top:767.25px;font-size:12.7px;letter-spacing:-0.366px;color:#242424;font-style:italic;">del</div>
<div class="x" style="left:132.75px;top:767.25px;font-size:12.7px;letter-spacing:-0.100px;color:#242424;font-style:italic;">Sistema</div>
<div class="x" style="left:182.38px;top:767.25px;font-size:12.7px;letter-spacing:-0.249px;color:#242424;font-style:italic;">Nacional</div>
<div class="x" style="left:235.87px;top:767.25px;font-size:12.7px;letter-spacing:-0.938px;color:#242424;font-style:italic;">de</div>
<div class="x" style="left:253.16px;top:767.25px;font-size:12.7px;letter-spacing:-0.024px;color:#242424;font-style:italic;">Vigilancia</div>
<div class="x" style="left:312.17px;top:767.25px;font-size:12.7px;letter-spacing:-0.938px;color:#242424;font-style:italic;">de</div>
<div class="x" style="left:330.46px;top:767.25px;font-size:12.7px;letter-spacing:-0.348px;color:#242424;font-style:italic;">la</div>
<div class="x" style="left:343.35px;top:767.25px;font-size:12.7px;letter-spacing:-0.555px;color:#242424;font-style:italic;">Salud</div>
<div class="x" style="left:378.39px;top:767.25px;font-size:12.7px;letter-spacing:-0.952px;color:#242424;transform:scaleX(0.9598);transform-origin:0 0;font-style:italic;">(SNVS</div>
<div class="x" style="left:420.60px;top:764.26px;font-size:8.2px;letter-spacing:0.400px;color:#242424;font-style:italic;">2.0</div>
<div class="x" style="left:434.56px;top:767.25px;font-size:12.7px;letter-spacing:-0.952px;color:#242424;transform:scaleX(0.9591);transform-origin:0 0;font-style:italic;">).</div>
</div></body></html>
